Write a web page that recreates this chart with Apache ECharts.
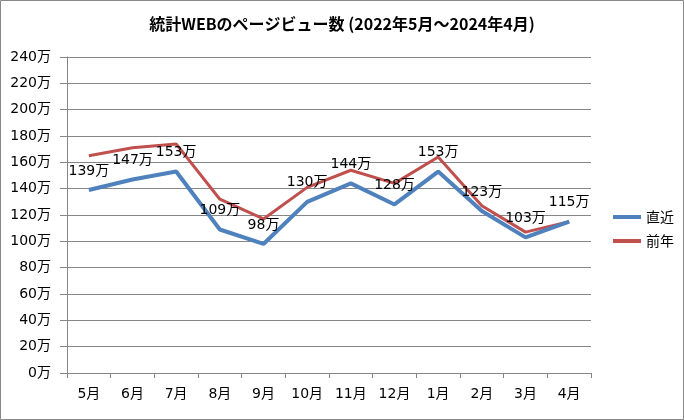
<!DOCTYPE html>
<html><head><meta charset="utf-8">
<script src="https://cdn.jsdelivr.net/npm/echarts@6/dist/echarts.min.js"></script>
<style>html,body{margin:0;padding:0;background:#fff}#c{width:684px;height:420px}</style>
</head><body><div id="c"></div>
<script>
const categories = ['5月','6月','7月','8月','9月','10月','11月','12月','1月','2月','3月','4月'];
const recent = [139,147,153,109,98,130,144,128,153,123,103,115];
const prevYear = [165,171,174,132,117,141,154,144,164,127,107,115];
const yTicks = {min:0, max:240, interval:20};
const FONT = '"DejaVu Sans", "Noto Sans CJK JP", sans-serif';
const TFONT = '"Noto Sans CJK JP", sans-serif';
const chart = echarts.init(document.getElementById('c'));
chart.setOption({
  animation:false,
  backgroundColor:'#fff',
  title:{text:'統計WEBのページビュー数 (2022年5月～2024年4月)', left:'center', top:11,
    textStyle:{fontFamily:TFONT, fontSize:16, fontWeight:'bold', color:'#000'}},
  graphic:[{type:'rect', shape:{x:0.5,y:0.5,width:683,height:419}, style:{fill:null, stroke:'#888', lineWidth:1}, silent:true}],
  legend:{orient:'vertical', left:608, top:205, itemGap:10, itemWidth:28, itemHeight:4,
    icon:'rect',
    textStyle:{fontFamily:TFONT, fontSize:14, color:'#000'},
    data:['直近','前年']},
  grid:{left:67, right:93, top:57, bottom:47},
  xAxis:{type:'category', data:categories, boundaryGap:true,
    axisLine:{lineStyle:{color:'#868686'}},
    axisTick:{show:true, interval:0, length:5, lineStyle:{color:'#868686'}},
    axisLabel:{fontFamily:FONT, fontSize:14, color:'#000', margin:14, interval:0}},
  yAxis:{type:'value', min:yTicks.min, max:yTicks.max, interval:yTicks.interval,
    axisLine:{show:true, lineStyle:{color:'#868686'}},
    axisTick:{show:true, length:7, lineStyle:{color:'#868686'}},
    splitLine:{lineStyle:{color:'#868686'}},
    axisLabel:{fontFamily:FONT, fontSize:14, color:'#000', margin:16, formatter:'{value}万'}},
  series:[
    {name:'直近', type:'line', data:recent, symbol:'circle', symbolSize:0, showSymbol:true, z:3,
     lineStyle:{color:'#4F81BD', width:4}, itemStyle:{color:'#4F81BD'},
     label:{show:true, position:'top', distance:12, formatter:'{c}万', fontFamily:FONT, fontSize:14, color:'#000'}},
    {name:'前年', type:'line', data:prevYear, symbol:'none', z:2,
     lineStyle:{color:'#C0504D', width:3}, itemStyle:{color:'#C0504D'}}
  ]
});
</script></body></html>
